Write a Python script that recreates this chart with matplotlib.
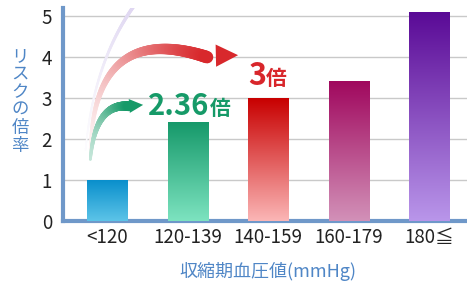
import numpy as np
import matplotlib
matplotlib.use("Agg")
import matplotlib.pyplot as plt
from matplotlib.colors import LinearSegmentedColormap, to_rgb
from matplotlib.collections import LineCollection
from matplotlib.patches import FancyArrowPatch

plt.rcParams['font.family'] = ['Noto Sans CJK JP', 'DejaVu Sans']

# データ
categories = ["<120", "120-139", "140-159", "160-179", "180≦"]
risk = [1.0, 2.41, 3.0, 3.41, 5.1]
top_colors = ["#0a8fcc", "#16996a", "#c80000", "#a0085e", "#5a0a96"]
bottom_colors = ["#5cc4e8", "#7de3c0", "#fbb6b6", "#d291b8", "#b996ea"]
ylabel = "リスクの倍率"
xlabel = "収縮期血圧値(mmHg)"

blue = "#4f86c6"

fig = plt.figure(figsize=(4.67, 2.84), dpi=100)
ax = fig.add_axes([63 / 467, 1 - 221 / 284, 1 - 63 / 467, 213 / 284])

x = np.arange(len(categories))
bars = ax.bar(x, risk, width=0.5, color="none", zorder=3)

# グラデーション
grad = np.linspace(0, 1, 256).reshape(-1, 1)
for b, ct, cb in zip(bars, top_colors, bottom_colors):
    cmap = LinearSegmentedColormap.from_list("g", [cb, ct])
    x0, w, h = b.get_x(), b.get_width(), b.get_height()
    ax.imshow(grad, extent=[x0, x0 + w, 0, h], origin="lower", cmap=cmap,
              aspect="auto", zorder=3)

ax.set_xlim(-0.55, 4.47)
ax.set_ylim(0, 5.2)
ax.set_yticks(range(6))
ax.set_xticks(x)
ax.set_xticklabels(categories, fontsize=13.5, color="#222222")
ax.tick_params(axis="y", labelsize=13.5, labelcolor="#222222", length=0, pad=8)
ax.tick_params(axis="x", length=0, pad=4)
ax.grid(axis="y", color="#c9c9c9", linewidth=1)
ax.set_axisbelow(True)
for s in ["top", "right"]:
    ax.spines[s].set_visible(False)
for s in ["left", "bottom"]:
    ax.spines[s].set_color("#6f98c9")
    ax.spines[s].set_linewidth(3)

ax.set_ylabel("\n".join(ylabel), rotation=0, color=blue, fontsize=12.5,
              linespacing=1.0, va="center", ha="center")
ax.yaxis.set_label_coords(-0.106, 0.565)
ax.set_xlabel(xlabel, color=blue, fontsize=13)
ax.xaxis.set_label_coords(0.507, -0.19)


def fade_curve(p0, c, p2, color, lw_max, a_min=0.0, a_max=1.0, lw_min=1.0, n=150):
    # 白背景に向けて色を薄める (透明度の重なりを避ける)
    t = np.linspace(0, 1, n)[:, None]
    pts = (1 - t) ** 2 * np.array(p0) + 2 * (1 - t) * t * np.array(c) + t ** 2 * np.array(p2)
    segs = np.stack([pts[:-1], pts[1:]], axis=1)
    tt = np.linspace(0, 1, n - 1)
    base = np.array(to_rgb(color))
    a = a_min + (a_max - a_min) * tt ** 1.3
    cols = 1 - a[:, None] * (1 - base)
    lws = lw_min + (lw_max - lw_min) * tt
    lc = LineCollection(segs, colors=cols, linewidths=lws, capstyle="round", zorder=2)
    ax.add_collection(lc)


# 紫の薄い弧
fade_curve((-0.27, 1.73), (-0.17, 3.9), (0.35, 5.3), "#c4b4e6", 2.5, 0.05, 0.55)
# 赤い矢印
fade_curve((-0.21, 1.75), (-0.15, 4.9), (1.24, 4.0), "#d8282c", 9, 0.05, 1.0, lw_min=2)
ax.add_patch(FancyArrowPatch((1.18, 4.03), (1.66, 4.05), arrowstyle="-|>",
                             mutation_scale=40, color="#d8282c", lw=0, zorder=2))
# 緑の矢印
fade_curve((-0.21, 1.5), (-0.15, 2.9), (0.27, 2.8), "#169a68", 7, 0.25, 1.0, lw_min=2)
ax.add_patch(FancyArrowPatch((0.22, 2.8), (0.48, 2.84), arrowstyle="-|>",
                             mutation_scale=25, color="#169a68", lw=0, zorder=2))

# 倍率の注記
green = "#169a68"
red = "#d8262b"
t1 = ax.text(0.51, 2.59, "2.36", color=green, fontsize=21, fontweight="bold",
             ha="left", va="baseline", zorder=4)
t2 = ax.text(1.75, 3.32, "3", color=red, fontsize=22, fontweight="bold",
             ha="left", va="baseline", zorder=4)
fig.canvas.draw()
r = fig.canvas.get_renderer()
inv = ax.transData.inverted()
for t, col, y in [(t1, green, 2.59), (t2, red, 3.32)]:
    bb = t.get_window_extent(r)
    xe = inv.transform((bb.x1, bb.y0))[0]
    ax.text(xe, y, "倍", color=col, fontsize=15, fontweight="bold",
            ha="left", va="baseline", zorder=4)

fig.savefig("out.png", dpi=100)
